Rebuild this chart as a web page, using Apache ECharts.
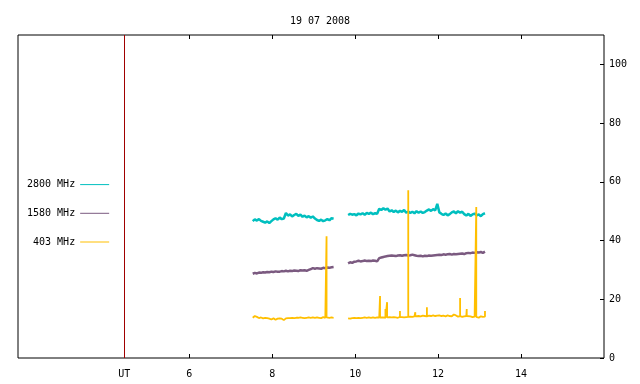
<!DOCTYPE html>
<html>
<head>
<meta charset="utf-8">
<script src="https://cdn.jsdelivr.net/npm/echarts@6/dist/echarts.min.js"></script>
<style>
  html, body { margin: 0; padding: 0; background: #fff; }
  #chart { width: 640px; height: 384px; }
</style>
</head>
<body>
<div id="chart"></div>
<script>
var titleText = "19 07 2008";
var legendNames = ["2800 MHz", "1580 MHz", "403 MHz"];
var xTickValues = [6, 8, 10, 12, 14];
var utPosition = 4.43;
var yTickValues = [0, 20, 40, 60, 80, 100];

// two observing runs, sampled every 0.05 h
var seg1Start = 7.53;
var seg2Start = 9.83;
var sampleStep = 0.05;

var cyan1 = [
  46.6, 47.2, 46.8, 47.3, 46.7, 46.4, 46.1, 46.5, 46.0, 46.6,
  47.2, 47.6, 47.1, 47.8, 47.3, 47.5, 49.4, 48.5, 48.9, 48.2,
  48.7, 49.1, 48.4, 48.8, 48.1, 48.5, 47.9, 48.3, 47.8, 48.2,
  47.5, 47.0, 46.7, 47.1, 46.6, 46.9, 47.3, 46.9, 47.6, 47.4
];
var cyan2 = [
  48.7, 49.1, 48.8, 49.0, 48.6, 49.2, 48.9, 49.3, 48.8, 49.4,
  49.1, 49.5, 49.0, 49.3, 49.1, 50.8, 50.4, 51.0, 50.5, 50.9,
  49.9, 50.3, 49.7, 50.2, 49.6, 50.1, 49.8, 50.4, 49.5, 49.9,
  49.4, 49.8, 49.3, 50.0, 49.5, 49.9, 49.4, 49.7, 50.2, 50.6,
  50.1, 50.7, 50.3, 52.5, 49.6, 49.1, 48.7, 49.2, 48.6, 49.0,
  49.6, 49.9, 49.3, 50.0, 49.5, 49.8, 49.0, 48.5, 49.1, 48.4,
  48.9, 49.2, 48.6, 48.9, 48.3, 49.0, 49.3
];

var purple1 = [
  28.7, 29.0, 28.8, 29.1, 29.0, 29.2, 29.1, 29.3, 29.2, 29.4,
  29.3, 29.5, 29.4, 29.4, 29.6, 29.5, 29.7, 29.5, 29.7, 29.6,
  29.8, 29.7, 29.6, 29.9, 29.8, 29.9, 29.7, 30.0, 30.3, 30.6,
  30.4, 30.6, 30.5, 30.4, 30.7, 30.6, 30.8, 30.7, 30.9, 31.0
];
var purple2 = [
  32.2, 32.6, 32.4, 32.8, 32.9, 33.1, 32.9, 33.0, 33.2, 33.0,
  33.1, 33.0, 33.2, 33.1, 32.9, 34.0, 34.2, 34.4, 34.6, 34.7,
  34.8, 34.9, 34.8, 34.7, 34.9, 35.0, 34.8, 35.0, 35.1, 34.9,
  35.0, 35.2, 35.0, 34.8, 34.7, 34.8, 34.6, 34.8, 34.7, 34.9,
  34.8, 34.9, 35.0, 35.1, 35.2, 35.1, 35.3, 35.2, 35.3, 35.4,
  35.2, 35.4, 35.3, 35.4, 35.5, 35.6, 35.4, 35.7, 35.8, 35.7,
  35.9, 35.8, 36.0, 35.9, 36.1, 35.8, 36.2
];

var orange1 = [
  13.7, 14.3, 14.0, 13.6, 13.8, 13.5, 13.7, 13.6, 13.4, 13.1,
  13.5, 13.0, 13.4, 13.5, 13.4, 12.9, 13.5, 13.6, 13.6, 13.7,
  13.6, 13.7, 13.7, 13.8, 13.7, 13.6, 13.7, 13.8, 13.7, 13.8,
  13.7, 13.8, 13.7, 13.6, 13.9, 13.7, 13.8, 13.7, 13.8, 13.7
];
var orange2 = [
  13.5, 13.4, 13.6, 13.7, 13.6, 13.7, 13.6, 13.7, 13.8, 13.7,
  13.8, 13.7, 13.8, 13.7, 13.8, 13.8, 13.9, 13.8, 13.7, 13.8,
  13.9, 13.8, 13.9, 13.8, 13.7, 14.0, 13.9, 13.8, 13.9, 14.0,
  14.1, 14.0, 14.2, 14.1, 14.3, 14.2, 14.4, 14.3, 14.2, 14.4,
  14.3, 14.5, 14.3, 14.4, 14.5, 14.3, 14.4, 14.2, 14.5, 14.3,
  14.2, 14.8, 14.5, 14.1, 14.3, 14.0, 14.2, 14.3, 14.1, 14.2,
  13.9, 14.1, 14.0, 13.7, 14.2, 14.0, 14.1
];
var orangeSpikeTimes = [9.31, 10.60, 10.73, 10.77, 11.08, 11.28, 11.45, 11.73, 12.53, 12.69, 12.92, 13.13];
var orangeSpikePeaks = [41.5, 21.1, 16.7, 19.0, 16.0, 57.1, 15.6, 17.3, 20.4, 16.7, 51.4, 16.0];

var colors = ["#00bfbf", "#7b5a80", "#ffbf00"];
var widths = [2.5, 2.5, 1.8];

function buildTrace(first, second) {
  var out = [];
  first.forEach(function (v, i) {
    out.push([+(seg1Start + i * sampleStep).toFixed(3), v]);
  });
  out.push([(seg1Start + first.length * sampleStep + seg2Start) / 2, "-"]);
  second.forEach(function (v, i) {
    out.push([+(seg2Start + i * sampleStep).toFixed(3), v]);
  });
  return out;
}

function addSpikes(data, times, peaks) {
  var extra = [];
  times.forEach(function (t, k) {
    var best = null;
    data.forEach(function (p) {
      if (p[1] === "-") return;
      if (best === null || Math.abs(p[0] - t) < Math.abs(best[0] - t)) best = p;
    });
    extra.push([t, best[1]], [t, peaks[k]], [t, best[1]]);
  });
  return data.concat(extra).sort(function (a, b) { return a[0] - b[0]; });
}

var font = "DejaVu Sans Mono";
var chart = echarts.init(document.getElementById("chart"), null, { renderer: "canvas" });

function lineSeries(idx, data) {
  return {
    name: legendNames[idx],
    type: "line",
    data: data,
    showSymbol: false,
    symbol: "none",
    sampling: null,
    connectNulls: false,
    lineStyle: { color: colors[idx], width: widths[idx] },
    itemStyle: { color: colors[idx] },
    emphasis: { disabled: true },
    silent: true
  };
}

var cyanSeries = lineSeries(0, buildTrace(cyan1, cyan2));
cyanSeries.markLine = {
  silent: true,
  symbol: "none",
  label: { show: false },
  lineStyle: { color: "#a00000", width: 1, type: "solid" },
  data: [{ xAxis: utPosition }]
};

chart.setOption({
  animation: false,
  title: {
    text: titleText,
    left: "center",
    top: 11,
    textStyle: { fontFamily: font, fontSize: 10, fontWeight: "normal", color: "#000" }
  },
  legend: {
    data: legendNames,
    orient: "vertical",
    align: "right",
    left: 22,
    top: 174,
    itemWidth: 29,
    itemHeight: 14,
    itemGap: 17.5,
    selectedMode: false,
    itemStyle: { opacity: 0 },
    lineStyle: { width: 1 },
    textStyle: { fontFamily: font, fontSize: 10, color: "#000" }
  },
  grid: {
    left: 18, right: 36, top: 35, bottom: 26,
    show: true, borderColor: "#000", borderWidth: 1,
    outerBoundsMode: "none"
  },
  xAxis: [{
    type: "value",
    min: 1.87,
    max: 16.0,
    position: "bottom",
    axisLine: { show: false },
    splitLine: { show: false },
    axisTick: { show: true, inside: true, length: 4, customValues: xTickValues, lineStyle: { color: "#000" } },
    axisLabel: {
      customValues: [utPosition].concat(xTickValues),
      formatter: function (v) { return Math.abs(v - utPosition) < 1e-6 ? "UT" : String(v); },
      margin: 11,
      fontFamily: font, fontSize: 10, color: "#000"
    }
  }, {
    type: "value",
    min: 1.87,
    max: 16.0,
    position: "top",
    axisLine: { show: false },
    splitLine: { show: false },
    axisTick: { show: true, inside: true, length: 4, customValues: xTickValues, lineStyle: { color: "#000" } },
    axisLabel: { show: false }
  }],
  yAxis: [{
    type: "value",
    min: 0,
    max: 110,
    position: "right",
    axisLine: { show: false },
    splitLine: { show: false },
    axisTick: { show: true, inside: true, length: 4, customValues: yTickValues, lineStyle: { color: "#000" } },
    axisLabel: { customValues: yTickValues, margin: 5, fontFamily: font, fontSize: 10, color: "#000" }
  }],
  series: [
    cyanSeries,
    lineSeries(1, buildTrace(purple1, purple2)),
    lineSeries(2, addSpikes(buildTrace(orange1, orange2), orangeSpikeTimes, orangeSpikePeaks))
  ]
});
</script>
</body>
</html>
